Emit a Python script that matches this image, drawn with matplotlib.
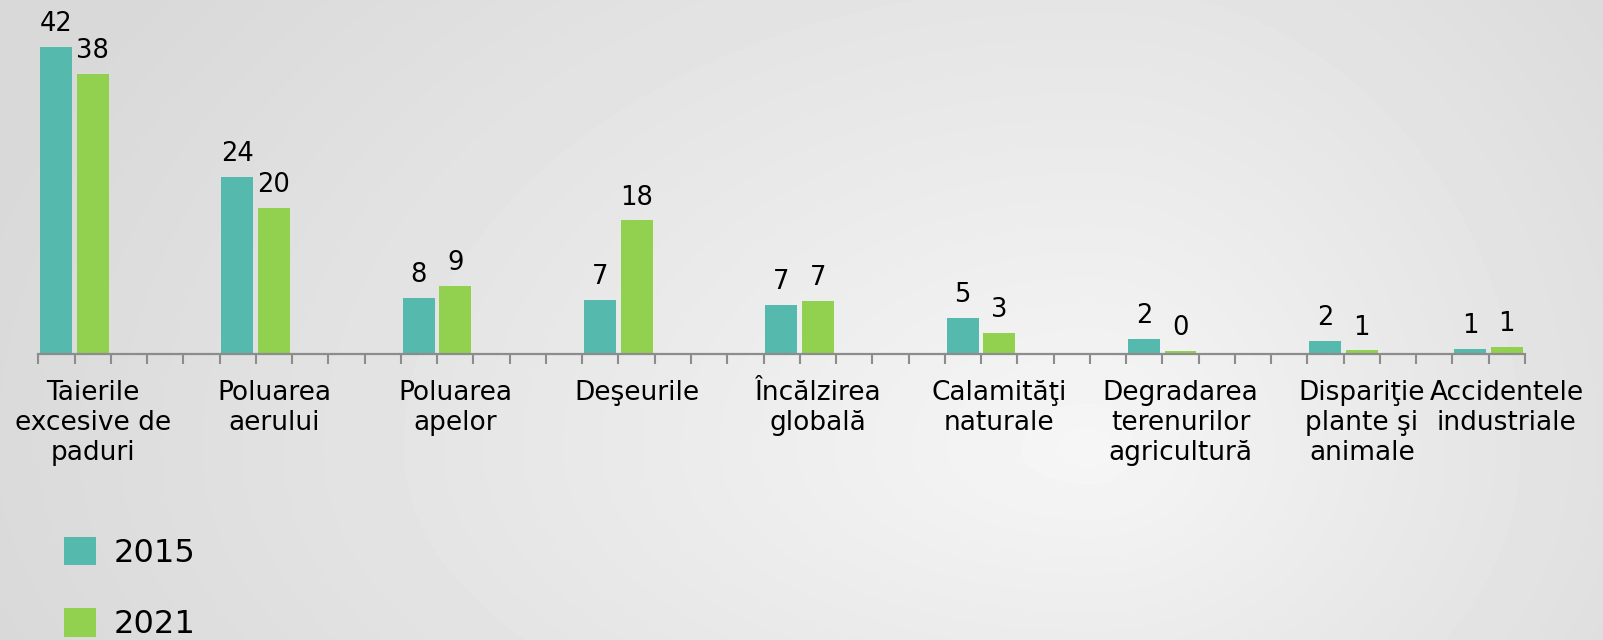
import numpy as np
import matplotlib
matplotlib.use('Agg')
import matplotlib.pyplot as plt

# date
categorii = ['Taierile\nexcesive de\npaduri', 'Poluarea\naerului', 'Poluarea\napelor',
             'Deşeurile', 'Încălzirea\nglobală', 'Calamităţi\nnaturale',
             'Degradarea\nterenurilor\nagricultură', 'Dispariţie\nplante şi\nanimale',
             'Accidentele\nindustriale']
start = [0, 5, 10, 15, 20, 25, 30, 35, 39]   # pozitia grupului pe axa
v2015 = [42.0, 24.2, 7.7, 7.4, 6.7, 4.9, 2.1, 1.8, 0.7]
v2021 = [38.3, 20.0, 9.3, 18.3, 7.3, 2.9, 0.4, 0.5, 1.0]
et2015 = ['42', '24', '8', '7', '7', '5', '2', '2', '1']
et2021 = ['38', '20', '9', '18', '7', '3', '0', '1', '1']

W, H = 1603, 640
fig = plt.figure(figsize=(W / 100, H / 100), dpi=100)

# fundal cu gradient radial
yy, xx = np.mgrid[0:H, 0:W]
cx, cy = 1090, 450
sx = np.where(xx < cx, 1150, 720)
sy = np.where(yy < cy, 780, 560)
t = np.clip(np.sqrt(((xx - cx) / sx) ** 2 + ((yy - cy) / sy) ** 2), 0, 1)
g = 0.965 - (0.965 - 0.85) * t ** 0.95
bg = fig.add_axes([0, 0, 1, 1])
bg.imshow(g, cmap='gray', vmin=0, vmax=1, aspect='auto', interpolation='bilinear')
bg.axis('off')

x0 = 38.3 / W
ax = fig.add_axes([x0, (H - 354) / H, 41 * 36.26 / W, 354 / H])
ax.patch.set_alpha(0)

x = np.array(start)
b1 = ax.bar(x + 0.49, v2015, width=0.88, color='#55B9AD', label='2015')
b2 = ax.bar(x + 1.5, v2021, width=0.88, color='#92D050', label='2021')
ax.bar_label(b1, labels=et2015, padding=7, fontsize=18.5)
ax.bar_label(b2, labels=et2021, padding=7, fontsize=18.5)

ax.set_xlim(0, 41)
ax.set_ylim(0, 354 / 7.31)

for s in ['top', 'left', 'right']:
    ax.spines[s].set_visible(False)
ax.spines['bottom'].set_color('#8c8c8c')
ax.spines['bottom'].set_linewidth(1.6)
ax.set_yticks([])

ax.set_xticks(np.arange(0, 42))
ax.set_xticklabels([])
ax.tick_params(axis='x', which='major', length=7, width=1.5, color='#8c8c8c')
ax.set_xticks(x + 1.5, minor=True)
ax.set_xticklabels(categorii, minor=True, fontsize=19)
ax.tick_params(axis='x', which='minor', length=0, pad=18.5)

leg = fig.legend(handles=[b1, b2], loc='upper left', bbox_to_anchor=(35 / W, 1 - 508 / H),
                 frameon=False, fontsize=23, handlelength=1.0, handleheight=1.0,
                 handletextpad=0.55, labelspacing=1.22)

plt.savefig('out.png', dpi=100)
